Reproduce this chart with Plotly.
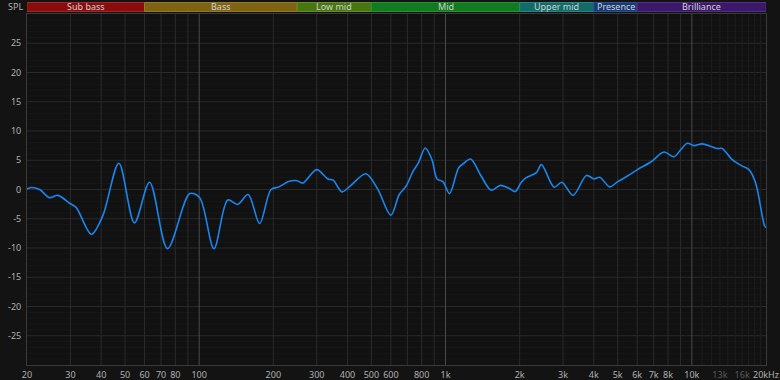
import plotly.graph_objects as go
import math

freq = [20, 20.8, 22.5, 24.7, 26.7, 29.9, 31.7, 36.5, 40.6, 47.2, 54.6, 62.9, 74.4,
        91.6, 100.5, 114.8, 130.6, 143.3, 158, 176, 195.7, 211, 232, 250, 263, 300,
        333, 350, 380, 413, 475, 530, 600, 649, 692, 738, 775, 828, 881, 924, 978,
        1038, 1130, 1180, 1265, 1395, 1530, 1670, 1810, 1920, 2030, 2120, 2340, 2452,
        2760, 2966, 3296, 3732, 4012, 4228, 4645, 4986, 5475, 6010, 6814, 7710, 8459,
        9012, 9592, 10208, 11020, 12680, 13280, 14580, 16020, 17060, 18150, 19730, 20000]
spl = [0.1, 0.35, 0.0, -1.4, -1.0, -2.4, -3.1, -7.65, -4.5, 4.5, -5.7, 1.25, -10.1,
       -0.7, -1.4, -10.1, -1.8, -2.55, -0.85, -5.8, 0.0, 0.45, 1.4, 1.5, 1.1, 3.4,
       1.8, 1.6, -0.4, 0.7, 2.7, 0.1, -4.4, -0.85, 0.6, 3.1, 4.5, 7.1, 5.1, 1.8, 1.3,
       -0.7, 3.7, 4.4, 5.2, 2.3, -0.1, 0.7, 0.2, -0.35, 1.25, 2.0, 2.9, 4.25,
       0.4, 1.25, -1.0, 2.4, 1.8, 2.1, 0.45, 1.3, 2.3, 3.4, 4.7, 6.4, 5.6,
       6.8, 7.9, 7.5, 7.8, 7.0, 7.0, 5.1, 4.0, 3.4, 1.1, -6.2, -6.5]

x_tick_vals = [20, 30, 40, 50, 60, 70, 80, 100, 200, 300, 400, 500, 600, 800, 1000,
               2000, 3000, 4000, 5000, 6000, 7000, 8000, 10000, 13000, 16000, 20000]
x_tick_text = ["20", "30", "40", "50", "60", "70", "80", "100", "200", "300", "400",
               "500", "600", "800", "1k", "2k", "3k", "4k", "5k", "6k", "7k", "8k",
               "10k", "13k", "16k", "20kHz"]
x_dim_labels = ["13k", "16k"]
x_grid_vals = [30, 40, 50, 60, 70, 80, 90, 200, 300, 400, 500, 600, 700, 800, 900,
               2000, 3000, 4000, 5000, 6000, 7000, 8000, 9000]
x_fine_grid = [11000, 12000, 13000, 14000, 15000, 16000, 17000, 18000, 19000]
x_bright_grid = [100, 1000, 10000]
y_tick_vals = [-25, -20, -15, -10, -5, 0, 5, 10, 15, 20, 25]
y_minor_vals = [v for v in range(-29, 30) if v % 5 != 0]

band_names = ["Sub bass", "Bass", "Low mid", "Mid", "Upper mid", "Presence", "Brilliance"]
band_edges = [20, 60, 250, 500, 2000, 4000, 6000, 20000]
band_colors = ["#8a0d0d", "#7d6312", "#4a7612", "#127a1f", "#136b69", "#163a78", "#3b1869"]
band_borders = ["#a02a2a", "#957a2a", "#62902a", "#2a9236", "#2b8583", "#2e5290", "#54307f"]

BG = "#111111"
fig = go.Figure()
fig.add_trace(go.Scatter(x=freq, y=spl, mode="lines",
                         line=dict(color="#1a86f0", width=1.6, shape="spline", smoothing=0.9),
                         hoverinfo="skip", showlegend=False))

shapes = []
for v in y_minor_vals:
    shapes.append(dict(type="line", xref="paper", yref="y", x0=0, x1=1, y0=v, y1=v,
                       line=dict(color="#181818", width=1), layer="between"))
for v in y_tick_vals:
    shapes.append(dict(type="line", xref="paper", yref="y", x0=0, x1=1, y0=v, y1=v,
                       line=dict(color="#2a2a2a", width=1), layer="between"))
for f in x_fine_grid:
    shapes.append(dict(type="line", xref="x", yref="paper", x0=f, x1=f, y0=0, y1=1,
                       line=dict(color="#1e1e1e", width=1), layer="between"))
for f in x_grid_vals:
    shapes.append(dict(type="line", xref="x", yref="paper", x0=f, x1=f, y0=0, y1=1,
                       line=dict(color="#2b2b2b", width=1), layer="between"))
for f in x_bright_grid:
    shapes.append(dict(type="line", xref="x", yref="paper", x0=f, x1=f, y0=0, y1=1,
                       line=dict(color="#4a4a4a", width=1), layer="between"))

H = 351.0
b0 = 1 + 2.5 / H
b1 = 1 + 11.5 / H
annotations = []
for i, name in enumerate(band_names):
    x0, x1 = band_edges[i], band_edges[i + 1]
    shapes.append(dict(type="rect", xref="x", yref="paper", x0=x0, x1=x1, y0=b0, y1=b1,
                       fillcolor=band_colors[i], line=dict(color=band_borders[i], width=1),
                       layer="above"))
    xm = math.sqrt(x0 * x1)
    annotations.append(dict(x=math.log10(xm), y=(b0 + b1) / 2, xref="x", yref="paper",
                            text=name, showarrow=False,
                            font=dict(size=9, color="#d0d0d0", family="Noto Sans"),
                            xanchor="center", yanchor="middle"))
annotations.append(dict(x=0, y=1 + 7 / H, xref="paper", yref="paper", text="SPL",
                        showarrow=False, xanchor="right", yanchor="middle", xshift=-2,
                        font=dict(size=9, color="#b0b0b0", family="Noto Sans")))

tick_text = [f'<span style="color:#5a5a5a">{t}</span>' if t in x_dim_labels else t
             for t in x_tick_text]

fig.update_layout(
    width=780, height=380,
    margin=dict(l=27, r=14, t=14, b=15, pad=0, autoexpand=False),
    paper_bgcolor="#131313", plot_bgcolor=BG,
    font=dict(family="Noto Sans", size=9, color="#b0b0b0"),
    shapes=shapes, annotations=annotations,
    xaxis=dict(type="log", range=[math.log10(20), math.log10(20000)],
               tickmode="array", tickvals=x_tick_vals, ticktext=tick_text,
               showgrid=False, zeroline=False, showline=True, linecolor="#3a3a3a",
               mirror=True, ticks="", ticklabelstandoff=1, fixedrange=True,
               automargin=False),
    yaxis=dict(range=[-30, 30], tickmode="array", tickvals=y_tick_vals,
               ticktext=[str(v) for v in y_tick_vals],
               showgrid=False, zeroline=False,
               showline=True, linecolor="#3a3a3a", mirror=True, ticks="",
               ticklabelstandoff=3, fixedrange=True, automargin=False),
)

fig.write_html("out.html", config={"displayModeBar": False})
